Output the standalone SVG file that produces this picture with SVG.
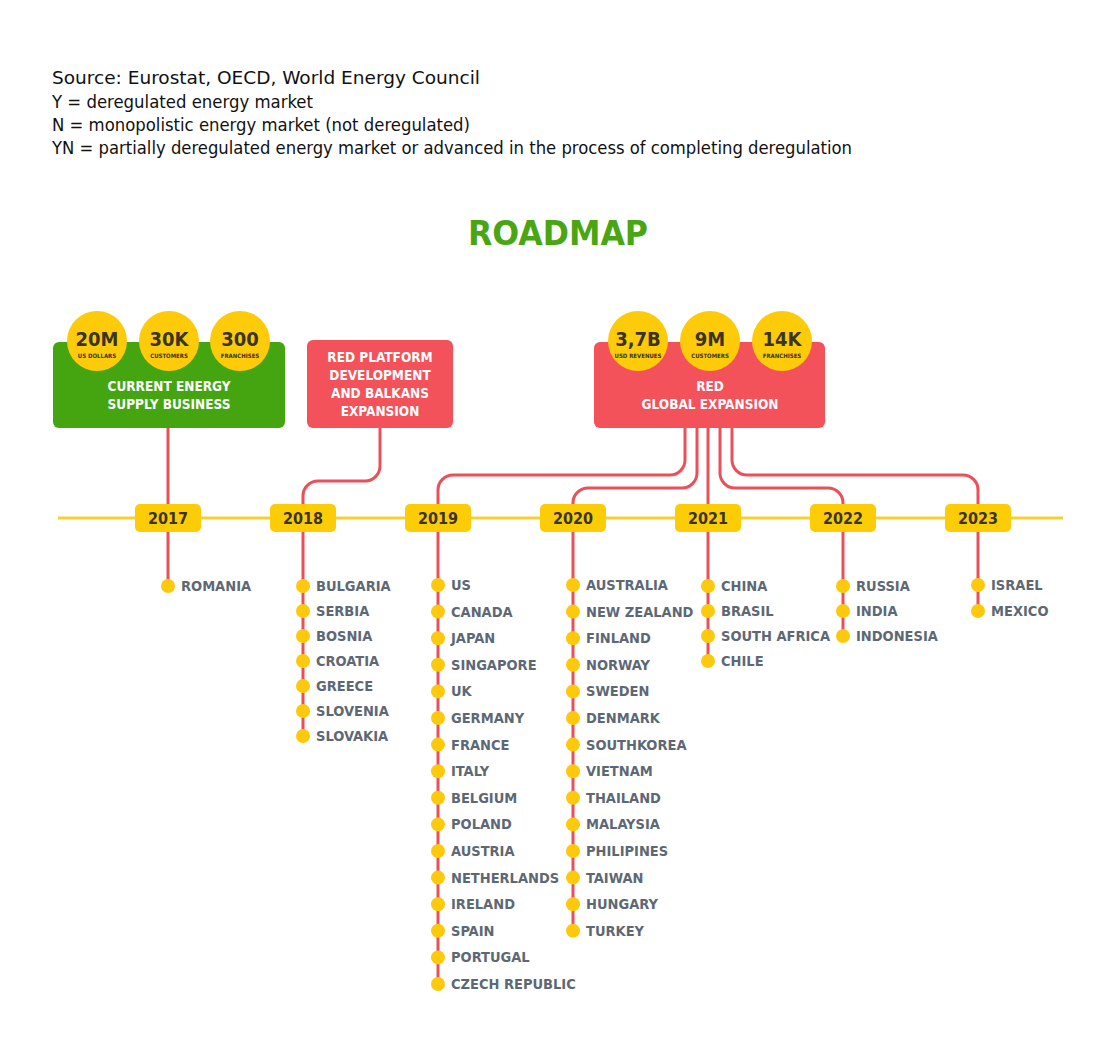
<svg xmlns="http://www.w3.org/2000/svg" width="1109" height="1043" viewBox="0 0 1109 1043">
<style>
.hdr{font-family:"DejaVu Sans Condensed","DejaVu Sans",sans-serif;font-size:17px;fill:#111}
.title{font-family:"DejaVu Sans Condensed","DejaVu Sans",sans-serif;font-weight:bold;font-size:34px;fill:#4aa513}
.boxt{font-family:"DejaVu Sans Condensed","DejaVu Sans",sans-serif;font-weight:bold;font-size:13.5px;fill:#fff;text-anchor:middle}
.num{font-family:"DejaVu Sans Condensed","DejaVu Sans",sans-serif;font-weight:bold;font-size:20px;fill:#3b3420;text-anchor:middle}
.sub{font-family:"DejaVu Sans Condensed","DejaVu Sans",sans-serif;font-weight:bold;font-size:6px;fill:#3b3420;text-anchor:middle}
.yr{font-family:"DejaVu Sans Condensed","DejaVu Sans",sans-serif;font-weight:bold;font-size:16px;fill:#3b3420;text-anchor:middle}
.ct{font-family:"DejaVu Sans Condensed","DejaVu Sans",sans-serif;font-weight:bold;font-size:14.5px;fill:#5d6874}
.conn{stroke:#ea505a;stroke-width:3;fill:none}
.dot{fill:#fdc90c}
.ybox{fill:#fccd07}
.circ{fill:#fdcb0a}
</style>

<g id="header">
<text class="hdr" x="52" y="84" textLength="428" lengthAdjust="spacingAndGlyphs">Source: Eurostat, OECD, World Energy Council</text>
<text class="hdr" x="52" y="108" textLength="261" lengthAdjust="spacingAndGlyphs">Y = deregulated energy market</text>
<text class="hdr" x="52" y="131" textLength="418" lengthAdjust="spacingAndGlyphs">N = monopolistic energy market (not deregulated)</text>
<text class="hdr" x="52" y="154" textLength="800" lengthAdjust="spacingAndGlyphs">YN = partially deregulated energy market or advanced in the process of completing deregulation</text>
</g>

<text class="title" x="468" y="245" textLength="180" lengthAdjust="spacingAndGlyphs">ROADMAP</text>

<g id="connectors">
<line x1="58" y1="518" x2="1063" y2="518" stroke="#f5d033" stroke-width="3"/>
<path class="conn" d="M168 428 V518"/>
<path class="conn" d="M380 428 V466 A15 15 0 0 1 365 481 H318 A15 15 0 0 0 303 496 V518"/>
<path class="conn" d="M685 428 V460 A15 15 0 0 1 670 475 H453 A15 15 0 0 0 438 490 V518"/>
<path class="conn" d="M697 428 V473 A15 15 0 0 1 682 488 H588 A15 15 0 0 0 573 503 V518"/>
<path class="conn" d="M708 428 V518"/>
<path class="conn" d="M720 428 V473 A15 15 0 0 0 735 488 H828 A15 15 0 0 1 843 503 V518"/>
<path class="conn" d="M732 428 V460 A15 15 0 0 0 747 475 H963 A15 15 0 0 1 978 490 V518"/>
<path class="conn" d="M168 518 V586"/>
<path class="conn" d="M303 518 V736"/>
<path class="conn" d="M438 518 V984"/>
<path class="conn" d="M573 518 V931"/>
<path class="conn" d="M708 518 V661"/>
<path class="conn" d="M843 518 V636"/>
<path class="conn" d="M978 518 V611"/>
</g>

<g id="current-business">
<rect x="53" y="342" width="232" height="86" rx="6" fill="#44a511"/>
<circle class="circ" cx="97" cy="341" r="30"/>
<circle class="circ" cx="169" cy="341" r="30"/>
<circle class="circ" cx="240" cy="341" r="30"/>
<text class="num" x="97" y="346">20M</text>
<text class="sub" x="97" y="358">US DOLLARS</text>
<text class="num" x="169" y="346">30K</text>
<text class="sub" x="169" y="358">CUSTOMERS</text>
<text class="num" x="240" y="346">300</text>
<text class="sub" x="240" y="358">FRANCHISES</text>
<text class="boxt" x="169" y="391">CURRENT ENERGY</text>
<text class="boxt" x="169" y="409">SUPPLY BUSINESS</text>
</g>

<g id="red-platform">
<rect x="307" y="340" width="146" height="88" rx="6" fill="#f3525a"/>
<text class="boxt" x="380" y="362">RED PLATFORM</text>
<text class="boxt" x="380" y="380">DEVELOPMENT</text>
<text class="boxt" x="380" y="398">AND BALKANS</text>
<text class="boxt" x="380" y="416">EXPANSION</text>
</g>

<g id="red-global">
<rect x="594" y="342" width="231" height="86" rx="6" fill="#f3525a"/>
<circle class="circ" cx="638" cy="341" r="30"/>
<circle class="circ" cx="710" cy="341" r="30"/>
<circle class="circ" cx="782" cy="341" r="30"/>
<text class="num" x="638" y="346">3,7B</text>
<text class="sub" x="638" y="358">USD REVENUES</text>
<text class="num" x="710" y="346">9M</text>
<text class="sub" x="710" y="358">CUSTOMERS</text>
<text class="num" x="782" y="346">14K</text>
<text class="sub" x="782" y="358">FRANCHISES</text>
<text class="boxt" x="710" y="391">RED</text>
<text class="boxt" x="710" y="409">GLOBAL EXPANSION</text>
</g>

<g id="year-2017">
<rect class="ybox" x="135" y="504" width="66" height="28" rx="5"/>
<text class="yr" x="168" y="524">2017</text>
<circle class="dot" cx="168" cy="586" r="7"/><text class="ct" x="181" y="591">ROMANIA</text>
</g>

<g id="year-2018">
<rect class="ybox" x="270" y="504" width="66" height="28" rx="5"/>
<text class="yr" x="303" y="524">2018</text>
<circle class="dot" cx="303" cy="586" r="7"/><text class="ct" x="316" y="591">BULGARIA</text>
<circle class="dot" cx="303" cy="611" r="7"/><text class="ct" x="316" y="616">SERBIA</text>
<circle class="dot" cx="303" cy="636" r="7"/><text class="ct" x="316" y="641">BOSNIA</text>
<circle class="dot" cx="303" cy="661" r="7"/><text class="ct" x="316" y="666">CROATIA</text>
<circle class="dot" cx="303" cy="686" r="7"/><text class="ct" x="316" y="691">GREECE</text>
<circle class="dot" cx="303" cy="711" r="7"/><text class="ct" x="316" y="716">SLOVENIA</text>
<circle class="dot" cx="303" cy="736" r="7"/><text class="ct" x="316" y="741">SLOVAKIA</text>
</g>

<g id="year-2019">
<rect class="ybox" x="405" y="504" width="66" height="28" rx="5"/>
<text class="yr" x="438" y="524">2019</text>
<circle class="dot" cx="438" cy="585" r="7"/><text class="ct" x="451" y="590">US</text>
<circle class="dot" cx="438" cy="611.6" r="7"/><text class="ct" x="451" y="616.6">CANADA</text>
<circle class="dot" cx="438" cy="638.2" r="7"/><text class="ct" x="451" y="643.2">JAPAN</text>
<circle class="dot" cx="438" cy="664.8" r="7"/><text class="ct" x="451" y="669.8">SINGAPORE</text>
<circle class="dot" cx="438" cy="691.4" r="7"/><text class="ct" x="451" y="696.4">UK</text>
<circle class="dot" cx="438" cy="718" r="7"/><text class="ct" x="451" y="723">GERMANY</text>
<circle class="dot" cx="438" cy="744.6" r="7"/><text class="ct" x="451" y="749.6">FRANCE</text>
<circle class="dot" cx="438" cy="771.2" r="7"/><text class="ct" x="451" y="776.2">ITALY</text>
<circle class="dot" cx="438" cy="797.8" r="7"/><text class="ct" x="451" y="802.8">BELGIUM</text>
<circle class="dot" cx="438" cy="824.4" r="7"/><text class="ct" x="451" y="829.4">POLAND</text>
<circle class="dot" cx="438" cy="851" r="7"/><text class="ct" x="451" y="856">AUSTRIA</text>
<circle class="dot" cx="438" cy="877.6" r="7"/><text class="ct" x="451" y="882.6">NETHERLANDS</text>
<circle class="dot" cx="438" cy="904.2" r="7"/><text class="ct" x="451" y="909.2">IRELAND</text>
<circle class="dot" cx="438" cy="930.8" r="7"/><text class="ct" x="451" y="935.8">SPAIN</text>
<circle class="dot" cx="438" cy="957.4" r="7"/><text class="ct" x="451" y="962.4">PORTUGAL</text>
<circle class="dot" cx="438" cy="984" r="7"/><text class="ct" x="451" y="989">CZECH REPUBLIC</text>
</g>

<g id="year-2020">
<rect class="ybox" x="540" y="504" width="66" height="28" rx="5"/>
<text class="yr" x="573" y="524">2020</text>
<circle class="dot" cx="573" cy="585" r="7"/><text class="ct" x="586" y="590">AUSTRALIA</text>
<circle class="dot" cx="573" cy="611.6" r="7"/><text class="ct" x="586" y="616.6">NEW ZEALAND</text>
<circle class="dot" cx="573" cy="638.2" r="7"/><text class="ct" x="586" y="643.2">FINLAND</text>
<circle class="dot" cx="573" cy="664.8" r="7"/><text class="ct" x="586" y="669.8">NORWAY</text>
<circle class="dot" cx="573" cy="691.4" r="7"/><text class="ct" x="586" y="696.4">SWEDEN</text>
<circle class="dot" cx="573" cy="718" r="7"/><text class="ct" x="586" y="723">DENMARK</text>
<circle class="dot" cx="573" cy="744.6" r="7"/><text class="ct" x="586" y="749.6">SOUTHKOREA</text>
<circle class="dot" cx="573" cy="771.2" r="7"/><text class="ct" x="586" y="776.2">VIETNAM</text>
<circle class="dot" cx="573" cy="797.8" r="7"/><text class="ct" x="586" y="802.8">THAILAND</text>
<circle class="dot" cx="573" cy="824.4" r="7"/><text class="ct" x="586" y="829.4">MALAYSIA</text>
<circle class="dot" cx="573" cy="851" r="7"/><text class="ct" x="586" y="856">PHILIPINES</text>
<circle class="dot" cx="573" cy="877.6" r="7"/><text class="ct" x="586" y="882.6">TAIWAN</text>
<circle class="dot" cx="573" cy="904.2" r="7"/><text class="ct" x="586" y="909.2">HUNGARY</text>
<circle class="dot" cx="573" cy="930.8" r="7"/><text class="ct" x="586" y="935.8">TURKEY</text>
</g>

<g id="year-2021">
<rect class="ybox" x="675" y="504" width="66" height="28" rx="5"/>
<text class="yr" x="708" y="524">2021</text>
<circle class="dot" cx="708" cy="586" r="7"/><text class="ct" x="721" y="591">CHINA</text>
<circle class="dot" cx="708" cy="611" r="7"/><text class="ct" x="721" y="616">BRASIL</text>
<circle class="dot" cx="708" cy="636" r="7"/><text class="ct" x="721" y="641">SOUTH AFRICA</text>
<circle class="dot" cx="708" cy="661" r="7"/><text class="ct" x="721" y="666">CHILE</text>
</g>

<g id="year-2022">
<rect class="ybox" x="810" y="504" width="66" height="28" rx="5"/>
<text class="yr" x="843" y="524">2022</text>
<circle class="dot" cx="843" cy="586" r="7"/><text class="ct" x="856" y="591">RUSSIA</text>
<circle class="dot" cx="843" cy="611" r="7"/><text class="ct" x="856" y="616">INDIA</text>
<circle class="dot" cx="843" cy="636" r="7"/><text class="ct" x="856" y="641">INDONESIA</text>
</g>

<g id="year-2023">
<rect class="ybox" x="945" y="504" width="66" height="28" rx="5"/>
<text class="yr" x="978" y="524">2023</text>
<circle class="dot" cx="978" cy="585" r="7"/><text class="ct" x="991" y="590">ISRAEL</text>
<circle class="dot" cx="978" cy="611" r="7"/><text class="ct" x="991" y="616">MEXICO</text>
</g>
</svg>
